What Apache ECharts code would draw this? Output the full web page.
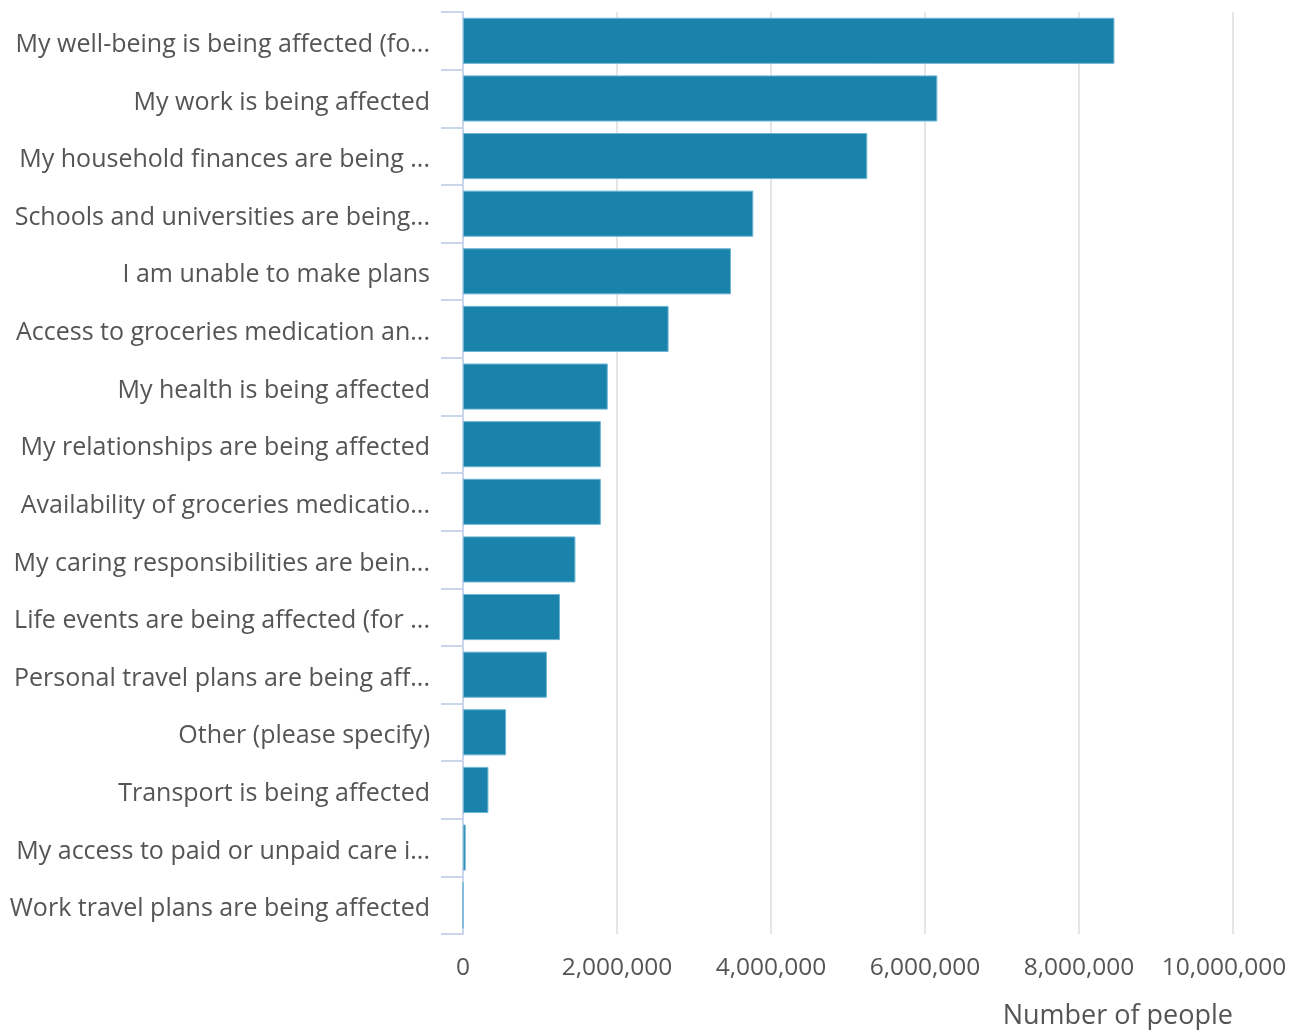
<!DOCTYPE html>
<html>
<head>
<meta charset="utf-8">
<script src="https://cdn.jsdelivr.net/npm/echarts@6/dist/echarts.min.js"></script>
<style>
	html, body { margin: 0; padding: 0; background: #fff; }
	#main { width: 1303px; height: 1030px; }
</style>
</head>
<body>
<div id="main"></div>
<script>
// categories, top to bottom
var categories = [
	'My well-being is being affected (fo...',
	'My work is being affected',
	'My household finances are being ...',
	'Schools and universities are being...',
	'I am unable to make plans',
	'Access to groceries medication an...',
	'My health is being affected',
	'My relationships are being affected',
	'Availability of groceries medicatio...',
	'My caring responsibilities are bein...',
	'Life events are being affected (for ...',
	'Personal travel plans are being aff...',
	'Other (please specify)',
	'Transport is being affected',
	'My access to paid or unpaid care i...',
	'Work travel plans are being affected'
];
// number of people
var people = [
	8460000, 6160000, 5250000, 3770000, 3480000, 2670000, 1880000, 1790000,
	1790000, 1460000, 1260000, 1090000, 560000, 330000, 35000, 0
];
var xTicks = [0, 2000000, 4000000, 6000000, 8000000, 10000000];

var fontName = '"Open Sans", "Noto Sans", sans-serif';
var labelColor = '#555555';
var axisColor = '#ccd6eb';

var chart = echarts.init(document.getElementById('main'));

function withCommas(v) {
	return v.toString().replace(/\B(?=(\d{3})+(?!\d))/g, ',');
}

var option = {
	animation: false,
	grid: {
		left: 463,
		right: 70,
		top: 12,
		bottom: 96
	},
	xAxis: {
		type: 'value',
		min: xTicks[0],
		max: xTicks[xTicks.length - 1],
		interval: xTicks[1] - xTicks[0],
		name: 'Number of people',
		nameLocation: 'end',
		nameGap: 0,
		nameTextStyle: {
			fontFamily: fontName,
			fontSize: 27,
			color: labelColor,
			align: 'right',
			verticalAlign: 'top',
			padding: [69, 0, 0, 0]
		},
		axisLine: { show: false },
		axisTick: { show: false },
		axisLabel: {
			fontFamily: fontName,
			fontSize: 24.5,
			color: labelColor,
			margin: 22,
			formatter: function (v) {
				// last label sits a little left of its gridline
				if (v == xTicks[xTicks.length - 1]) {
					return '{last|' + withCommas(v) + '}';
				}
				return withCommas(v);
			},
			rich: {
				last: {
					fontFamily: fontName,
					fontSize: 24.5,
					color: labelColor,
					padding: [0, 18, 0, 0]
				}
			}
		},
		splitLine: {
			show: true,
			lineStyle: { color: '#e6e6e6', width: 2 }
		}
	},
	yAxis: {
		type: 'category',
		inverse: true,
		data: categories,
		axisLine: {
			show: true,
			lineStyle: { color: axisColor, width: 2 }
		},
		axisTick: {
			show: true,
			length: 22,
			lineStyle: { color: axisColor, width: 2 }
		},
		axisLabel: {
			margin: 33,
			formatter: function (v) {
				return '{cat|' + v + '}';
			},
			rich: {
				cat: {
					fontFamily: fontName,
					fontSize: 25,
					color: labelColor,
					padding: [8, 0, 0, 0]
				}
			}
		},
		splitLine: { show: false }
	},
	series: [{
		type: 'bar',
		data: people,
		barCategoryGap: '20%',
		itemStyle: {
			color: '#1a83ab',
			borderColor: '#6db5d3',
			borderWidth: 1
		}
	}]
};

chart.setOption(option);
window.addEventListener("resize", function() {
	chart.resize();
});
</script>
</body>
</html>
